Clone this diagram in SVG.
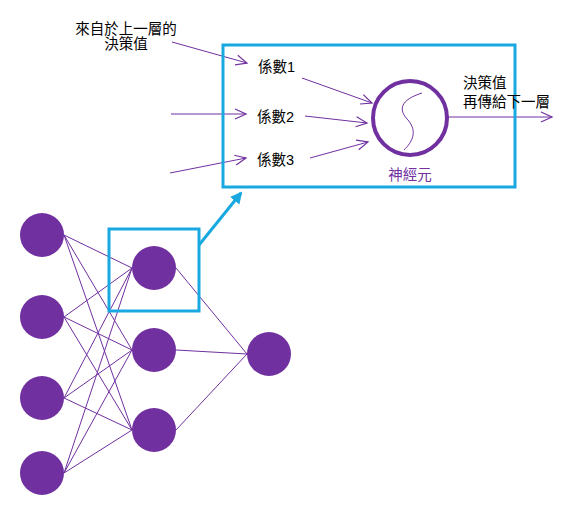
<svg xmlns="http://www.w3.org/2000/svg" width="564" height="514" viewBox="0 0 564 514">
<style>
.t{font-family:"Liberation Sans","Noto Sans CJK TC",sans-serif;font-size:14.5px;fill:#000}
.p{fill:#7030a0}
.e{stroke:#7030a0;stroke-width:1;fill:none}
.a{stroke:#7030a0;stroke-width:1;fill:none;marker-end:url(#ah)}
.b{stroke:#19a9e0;stroke-width:3;fill:none}
</style>
<defs>
<marker id="ah" markerWidth="14" markerHeight="12" refX="12" refY="6" orient="auto" markerUnits="userSpaceOnUse">
<polyline points="1,1 12,6 1,11" fill="none" stroke="#7030a0" stroke-width="1.2"/>
</marker>
<marker id="bh" markerWidth="14" markerHeight="14" refX="10" refY="6" orient="auto" markerUnits="userSpaceOnUse">
<polygon points="0,0 12,6 0,12" fill="#19a9e0"/>
</marker>
</defs>
<g id="connectors">
<g class="e">
<line x1="64" y1="235" x2="132" y2="268"/><line x1="64" y1="235" x2="132" y2="350"/><line x1="64" y1="235" x2="132" y2="430"/>
<line x1="64" y1="317" x2="132" y2="268"/><line x1="64" y1="317" x2="132" y2="350"/><line x1="64" y1="317" x2="132" y2="430"/>
<line x1="64" y1="398" x2="132" y2="268"/><line x1="64" y1="398" x2="132" y2="350"/><line x1="64" y1="398" x2="132" y2="430"/>
<line x1="64" y1="473" x2="132" y2="268"/><line x1="64" y1="473" x2="132" y2="350"/><line x1="64" y1="473" x2="132" y2="430"/>
<line x1="176" y1="268" x2="247" y2="354"/><line x1="176" y1="350" x2="247" y2="354"/><line x1="176" y1="430" x2="247" y2="354"/>
</g>
<line class="a" x1="172" y1="42" x2="247" y2="63"/>
<line class="a" x1="171" y1="114" x2="246" y2="114"/>
<line class="a" x1="170" y1="173" x2="246" y2="158"/>
<line class="a" x1="302" y1="78" x2="372" y2="103"/>
<line class="a" x1="305" y1="116" x2="367" y2="123"/>
<line class="a" x1="310" y1="158" x2="368" y2="142"/>
<line class="a" x1="448" y1="117" x2="552" y2="117"/>
<line class="b" x1="199" y1="245" x2="241" y2="193" stroke-width="3" marker-end="url(#bh)"/>
</g>
<g id="in1"><circle class="p" cx="42" cy="235" r="22"/></g>
<g id="in2"><circle class="p" cx="42" cy="317" r="22"/></g>
<g id="in3"><circle class="p" cx="42" cy="398" r="22"/></g>
<g id="in4"><circle class="p" cx="42" cy="473" r="22"/></g>
<g id="h1"><circle class="p" cx="154" cy="268" r="22"/></g>
<g id="h2"><circle class="p" cx="154" cy="350" r="22"/></g>
<g id="h3"><circle class="p" cx="154" cy="430" r="22"/></g>
<g id="out"><circle class="p" cx="269" cy="354" r="22"/></g>
<g id="focus"><rect class="b" x="109" y="229" width="90" height="82"/></g>
<g id="detail">
<rect class="b" x="223" y="45" width="292" height="142"/>
</g>
<g id="neuron">
<circle cx="410" cy="118" r="37" fill="none" stroke="#7030a0" stroke-width="4"/>
<path d="M422,93 C400,100 398,110 408,120 C418,132 412,142 404,150" class="e"/>
<text x="410" y="180" text-anchor="middle" class="t" style="fill:#7030a0">神經元</text>
</g>
<g id="labels">
<text x="126" y="34" text-anchor="middle" class="t">來自於上一層的</text>
<text x="126" y="49" text-anchor="middle" class="t">決策值</text>
<text x="258" y="72" class="t">係數1</text>
<text x="257" y="122" class="t">係數2</text>
<text x="257" y="165" class="t">係數3</text>
<text x="463" y="88" class="t">決策值</text>
<text x="463" y="107" class="t">再傳給下一層</text>
</g>
</svg>
